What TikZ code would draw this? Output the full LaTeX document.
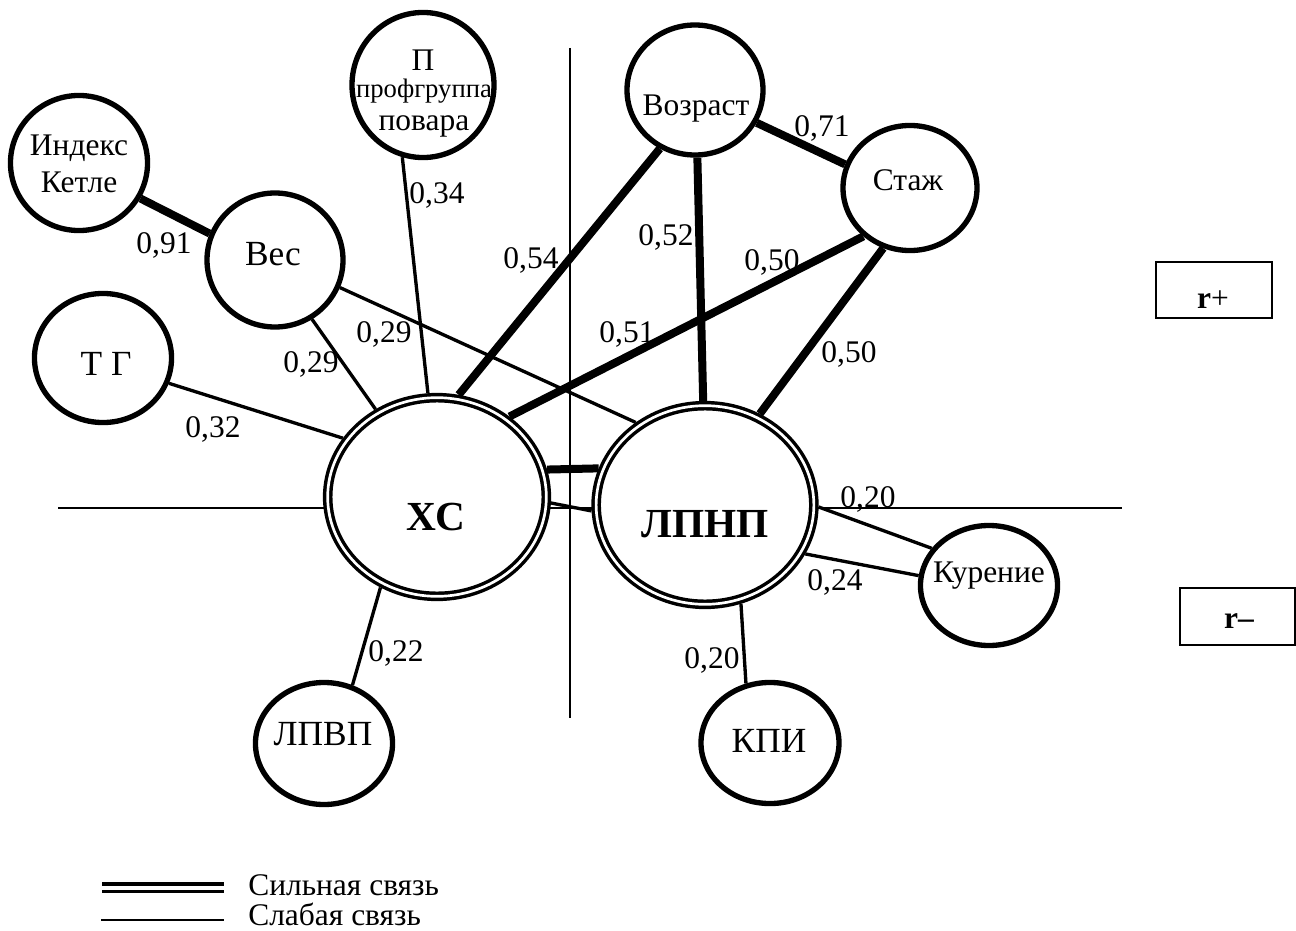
\documentclass[tikz,border=0pt]{standalone}
\usepackage{fontspec}
\setmainfont{Liberation Serif}
\usetikzlibrary{shapes.geometric}

\tikzset{
  factor/.style={ellipse, draw, line width=4pt, fill=white, inner sep=0pt, outer sep=2pt},
  core/.style={ellipse, draw, double, line width=2.6pt, double distance=2pt, fill=white, inner sep=0pt, outer sep=3.6pt},
  weak/.style={line width=2.5pt},
  strong/.style={line width=6pt},
  axis/.style={line width=1.4pt},
  lbl/.style={anchor=base, inner sep=0pt, font=\fontsize{23.6}{28}\selectfont},
  big/.style={anchor=base, inner sep=0pt, font=\fontsize{26.5}{30}\selectfont},
  small/.style={anchor=base, inner sep=0pt, font=\fontsize{20}{24}\selectfont},
  bold/.style={anchor=base, inner sep=0pt, font=\fontsize{31}{36}\selectfont\bfseries},
  signbox/.style={draw, line width=1.5pt},
}

\begin{document}
\begin{tikzpicture}[x=0.75pt, y=-0.75pt]
\useasboundingbox (0,0) rectangle (1296,931);

% coordinate axes
\coordinate (axL) at (58,508);
\coordinate (axR) at (1122,508);
\coordinate (axT) at (570,48);
\coordinate (axB) at (570,718);
\draw[axis] (axL) -- (axR);
\draw[axis] (axT) -- (axB);

% factor circles
\node[factor, minimum width=102.8pt, minimum height=101.3pt] (ik)  at (79,163) {};
\node[factor, minimum width=102pt,   minimum height=100.5pt] (ves) at (275,260) {};
\node[factor, minimum width=106.5pt, minimum height=108.8pt] (pg)  at (423,85) {};
\node[factor, minimum width=102pt,   minimum height=97.5pt]  (voz) at (695,90) {};
\node[factor, minimum width=100.5pt, minimum height=93.8pt]  (st)  at (910,188) {};
\node[factor, minimum width=102.8pt, minimum height=96.8pt]  (tg)  at (103,358) {};
\node[factor, minimum width=102.8pt, minimum height=90pt]    (kur) at (989,585.5) {};
\node[factor, minimum width=103.5pt, minimum height=90.8pt]  (kpi) at (770,743) {};
\node[factor, minimum width=102.8pt, minimum height=91.5pt]  (lpvp) at (324,743.5) {};

% central parameters
\node[core, minimum width=164pt,   minimum height=149pt] (xc)   at (437,497) {};
\node[core, minimum width=163.3pt, minimum height=149pt] (lpnp) at (705,505) {};

% names inside the circles
\node[lbl]   (tik1) at (79,155)  {Индекс};
\node[lbl]   (tik2) at (79,192)  {Кетле};
\node[big]   (tves) at (273,265) {Вес};
\node[lbl]   (tpg1) at (423,70)  {П};
\node[small] (tpg2) at (424,98)  {профгруппа};
\node[lbl]   (tpg3) at (424,130) {повара};
\node[lbl]   (tvoz) at (696,115) {Возраст};
\node[lbl]   (tst)  at (908,190) {Стаж};
\node[big]   (ttg)  at (106,375) {Т Г};
\node[bold]  (txc)  at (436,530) {ХС};
\node[bold]  (tlp)  at (705,537) {ЛПНП};
\node[lbl]   (tkur) at (989,582) {Курение};
\node[big]   (tkpi) at (769,752) {КПИ};
\node[big]   (tlv)  at (323,745) {ЛПВП};

% strong links
\draw[strong] (ik.-30)   -- (ves.158);
\draw[strong] (voz.-28)  -- (st.160);
\draw[strong] (voz.-121) -- (xc.78);
\draw[strong] (voz.-88)  -- (lpnp.91);
\draw[strong] (st.-134)  -- (xc.48.5);
\draw[strong] (st.-114)  -- (lpnp.59);
\draw[strong] (xc.14.6)  -- (lpnp.161);

% weak links
\draw[weak] (ves.-23)  -- (lpnp.130);
\draw[weak] (ves.-58)  -- (xc.125);
\draw[weak] (pg.-106)  -- (xc.95);
\draw[weak] (tg.-21)   -- (xc.148);
\draw[weak] (xc.-3)    -- (lpnp.183);
\draw[weak] (lpnp.-1.5) -- (kur.147);
\draw[weak] (lpnp.-26) -- (kur.172);
\draw[weak] (lpnp.-70) -- (kpi.112);
\draw[weak] (xc.-122)  -- (lpvp.64);

% correlation coefficients
\node[lbl] (c91)  at (164,253) {0,91};
\node[lbl] (c34)  at (437,203) {0,34};
\node[lbl] (c54)  at (531,268) {0,54};
\node[lbl] (c29a) at (384,342) {0,29};
\node[lbl] (c29b) at (311,372) {0,29};
\node[lbl] (c32)  at (213,437) {0,32};
\node[lbl] (c51)  at (627,342) {0,51};
\node[lbl] (c71)  at (822,137) {0,71};
\node[lbl] (c52)  at (666,245) {0,52};
\node[lbl] (c50a) at (772,270) {0,50};
\node[lbl] (c50b) at (849,362) {0,50};
\node[lbl] (c20a) at (868,507) {0,20};
\node[lbl] (c24)  at (835,590) {0,24};
\node[lbl] (c20b) at (712,668) {0,20};
\node[lbl] (c22)  at (396,661) {0,22};

% sign boxes
\node[signbox, minimum width=87pt, minimum height=42pt, inner sep=0pt] (rplus) at (1214,290) {};
\node[lbl] (trplus) at (1213,308) {\textbf{r}+};
\node[signbox, minimum width=86.3pt, minimum height=42.8pt, inner sep=0pt] (rminus) at (1237.5,616.5) {};
\node[lbl] (trminus) at (1239,628) {\textbf{r–}};

% legend
\coordinate (sA) at (102,887.5);
\coordinate (sB) at (224,887.5);
\coordinate (wA) at (101,920);
\coordinate (wB) at (224,920);
\draw[line width=2.4pt, double, double distance=3pt] (sA) -- (sB);
\draw[line width=2.2pt] (wA) -- (wB);
\node[lbl, anchor=base west] (lgs) at (248,895) {Сильная связь};
\node[lbl, anchor=base west] (lgw) at (248,925) {Слабая связь};
\end{tikzpicture}
\end{document}
